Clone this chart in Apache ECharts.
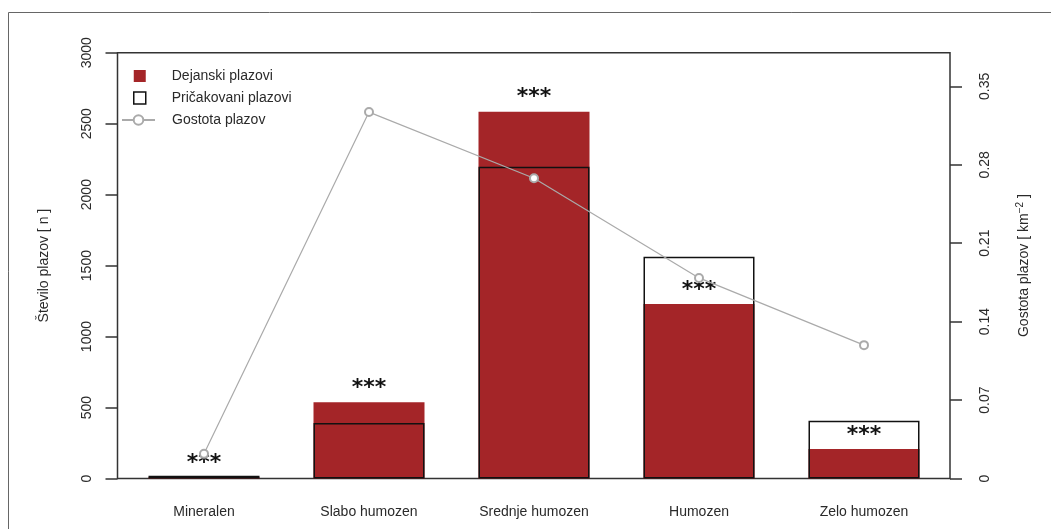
<!DOCTYPE html>
<html>
<head>
<meta charset="utf-8">
<script src="https://cdn.jsdelivr.net/npm/echarts@6/dist/echarts.min.js"></script>
<style>
html,body{margin:0;padding:0;background:#fff;}
#chart{width:1051px;height:529px;}
</style>
</head>
<body>
<div id="chart"></div>
<script>
const categories = ['Mineralen', 'Slabo humozen', 'Srednje humozen', 'Humozen', 'Zelo humozen'];
const actualSlides = [8, 537, 2584, 1229, 208];
const expectedSlides = [20, 391, 2197, 1563, 407];
const slideDensity = [0.022, 0.327, 0.268, 0.179, 0.119];
const significance = ['***', '***', '***', '***', '***'];
const leftTicks = [0, 500, 1000, 1500, 2000, 2500, 3000];
const rightTicks = [0, 0.07, 0.14, 0.21, 0.28, 0.35];

const RED = '#a42528';
const TXT = '#2a2a2a';
const FONT = 'Liberation Sans, Arial, sans-serif';

const chart = echarts.init(document.getElementById('chart'), null, {renderer: 'canvas'});

const option = {
  backgroundColor: '#fff',
  animation: false,
  graphic: [{
    type: 'rect',
    shape: {x: 8.5, y: 12.5, width: 1200, height: 700},
    style: {fill: 'none', stroke: '#666', lineWidth: 1},
    silent: true
  }],
  grid: [
    {left: 121.5, right: 104.5, top: 52.7, bottom: 50.5, containLabel: false},
    {left: 117.5, right: 101, top: 52.7, bottom: 50.5, show: true,
     borderColor: '#333', borderWidth: 1.5, backgroundColor: 'transparent', containLabel: false}
  ],
  legend: [
    {
      data: [
        {name: 'Dejanski plazovi', icon: 'rect', itemStyle: {color: RED, borderWidth: 0}},
        {name: 'Pričakovani plazovi', icon: 'rect', itemStyle: {color: '#fff', borderColor: '#111', borderWidth: 1.5}}
      ],
      orient: 'vertical', left: 133, top: 69, padding: 0,
      itemWidth: 12, itemHeight: 12, itemGap: 8,
      selectedMode: false,
      textStyle: {fontFamily: FONT, fontSize: 14, color: TXT, padding: [0, 0, 0, 21]}
    },
    {
      data: [{name: 'Gostota plazov'}],
      orient: 'vertical', left: 121, top: 113, padding: 0,
      itemWidth: 33, itemHeight: 12,
      selectedMode: false,
      textStyle: {fontFamily: FONT, fontSize: 14, color: TXT, padding: [0, 0, 0, 12]}
    }
  ],
  xAxis: [
    {
      type: 'category', gridIndex: 0, data: categories,
      boundaryGap: true,
      axisLine: {show: false}, axisTick: {show: false},
      axisLabel: {margin: 27, fontFamily: FONT, fontSize: 14, color: TXT}
    },
    {type: 'value', gridIndex: 1, show: false, min: 0, max: 1}
  ],
  yAxis: [
    {
      type: 'value', gridIndex: 0, position: 'left', offset: 4,
      min: 0, max: 3000, interval: 500,
      name: 'Število plazov [ n ]', nameLocation: 'middle', nameRotate: 90, nameGap: 66,
      nameTextStyle: {fontFamily: FONT, fontSize: 14, color: TXT},
      axisLine: {show: false},
      axisTick: {show: true, inside: false, length: 12, lineStyle: {color: '#333', width: 1.5}, customValues: leftTicks},
      axisLabel: {rotate: 90, margin: 23, fontFamily: FONT, fontSize: 14, color: TXT, customValues: leftTicks,
        formatter: v => String(v)},
      splitLine: {show: false}
    },
    {
      type: 'value', gridIndex: 0, position: 'right', offset: 3.5,
      min: 0, max: 0.38,
      name: 'Gostota plazov [ km{sup|−2} ]', nameLocation: 'middle', nameRotate: 90, nameGap: 65,
      nameTextStyle: {fontFamily: FONT, fontSize: 14, color: TXT,
        rich: {sup: {fontFamily: FONT, fontSize: 10, color: TXT, verticalAlign: 'top', padding: [0, 0, 8, 0]}}},
      axisLine: {show: false},
      axisTick: {show: true, inside: false, length: 12, lineStyle: {color: '#333', width: 1.5}, customValues: rightTicks},
      axisLabel: {rotate: 90, margin: 28, fontFamily: FONT, fontSize: 14, color: TXT, customValues: rightTicks,
        formatter: v => String(v)},
      splitLine: {show: false}
    },
    {type: 'value', gridIndex: 1, show: false, min: 0, max: 1}
  ],
  series: [
    {
      name: 'Dejanski plazovi', type: 'bar', xAxisIndex: 0, yAxisIndex: 0,
      data: actualSlides, barWidth: 111, z: 2,
      itemStyle: {color: RED},
      label: {
        show: true, position: 'top', distance: 3,
        formatter: p => significance[p.dataIndex],
        fontFamily: 'DejaVu Sans', fontSize: 22, fontWeight: 'bold', color: '#111'
      }
    },
    {
      name: 'Pričakovani plazovi', type: 'bar', xAxisIndex: 0, yAxisIndex: 0,
      data: expectedSlides, barWidth: 111, barGap: '-100%', z: 3,
      itemStyle: {color: 'rgba(255,255,255,0)', borderColor: '#111', borderWidth: 1.5}
    },
    {
      name: 'Gostota plazov', type: 'line', xAxisIndex: 0, yAxisIndex: 1,
      data: slideDensity, z: 4,
      symbol: 'emptyCircle', symbolSize: 8,
      itemStyle: {color: '#aaa', borderWidth: 1.2},
      lineStyle: {color: '#aaa', width: 1.2}
    }
  ]
};
chart.setOption(option);
</script>
</body>
</html>
